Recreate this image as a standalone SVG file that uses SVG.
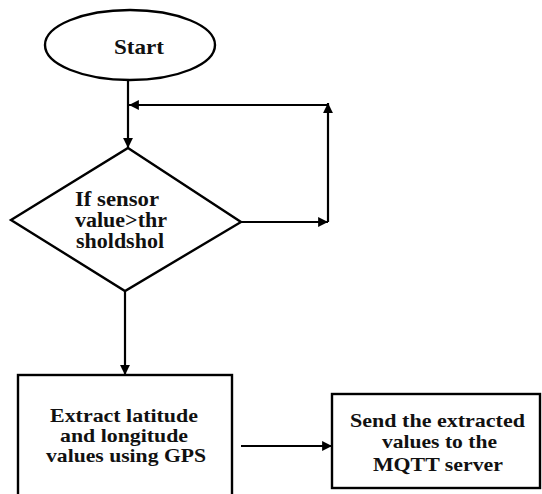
<svg xmlns="http://www.w3.org/2000/svg" width="542" height="494" viewBox="0 0 542 494">
  <style>
    .shape { fill: #ffffff; stroke: #000000; stroke-width: 2.4; }
    .wire { fill: none; stroke: #000000; stroke-width: 2.2; }
    .label { font-family: 'Liberation Serif', 'DejaVu Serif', 'Times New Roman', serif; font-weight: 700; fill: #111111; }
  </style>
  <defs>
    <marker id="head" viewBox="0 0 10 10" refX="10" refY="5" markerWidth="4.5" markerHeight="4.5" orient="auto" markerUnits="strokeWidth">
      <path d="M0,0 L10,5 L0,10 Z" fill="#000000"/>
    </marker>
  </defs>

  <rect width="542" height="494" fill="#ffffff"/>

  <!-- connectors -->
  <g id="connectors">
    <line class="wire" x1="128" y1="80" x2="128" y2="148" marker-end="url(#head)"/>
    <line class="wire" x1="241" y1="222" x2="328" y2="222" marker-end="url(#head)"/>
    <line class="wire" x1="328" y1="222" x2="328" y2="103" marker-end="url(#head)"/>
    <line class="wire" x1="328" y1="105" x2="129" y2="105" marker-end="url(#head)"/>
    <line class="wire" x1="125" y1="291" x2="125" y2="375" marker-end="url(#head)"/>
    <line class="wire" x1="241" y1="446" x2="332" y2="446" marker-end="url(#head)"/>
  </g>

  <!-- start terminal -->
  <g id="start">
    <ellipse class="shape" cx="130" cy="45" rx="85" ry="35"/>
    <text class="label" x="139" y="54" font-size="21" text-anchor="middle" textLength="50" lengthAdjust="spacingAndGlyphs">Start</text>
  </g>

  <!-- threshold decision -->
  <g id="decision">
    <polygon class="shape" points="128,148 241,222 125,291 11,220"/>
    <text class="label" x="75" y="206" font-size="20" textLength="84" lengthAdjust="spacingAndGlyphs">If sensor</text>
    <text class="label" x="75" y="227" font-size="20" textLength="92" lengthAdjust="spacingAndGlyphs">value&gt;thr</text>
    <text class="label" x="76" y="248" font-size="20" textLength="88" lengthAdjust="spacingAndGlyphs">sholdshol</text>
  </g>

  <!-- GPS extraction step -->
  <g id="extract">
    <rect class="shape" x="18" y="375" width="214" height="130"/>
    <text class="label" x="124" y="422" font-size="19" text-anchor="middle" textLength="148" lengthAdjust="spacingAndGlyphs">Extract latitude</text>
    <text class="label" x="124" y="442" font-size="19" text-anchor="middle" textLength="128" lengthAdjust="spacingAndGlyphs">and longitude</text>
    <text class="label" x="126" y="462" font-size="19" text-anchor="middle" textLength="160" lengthAdjust="spacingAndGlyphs">values using GPS</text>
  </g>

  <!-- MQTT publish step -->
  <g id="send">
    <rect class="shape" x="332" y="394" width="208" height="94"/>
    <text class="label" x="437.5" y="427" font-size="19" text-anchor="middle" textLength="175" lengthAdjust="spacingAndGlyphs">Send the extracted</text>
    <text class="label" x="439.5" y="448" font-size="19" text-anchor="middle" textLength="115" lengthAdjust="spacingAndGlyphs">values to the</text>
    <text class="label" x="438" y="471" font-size="19" text-anchor="middle" textLength="130" lengthAdjust="spacingAndGlyphs">MQTT server</text>
  </g>
</svg>
